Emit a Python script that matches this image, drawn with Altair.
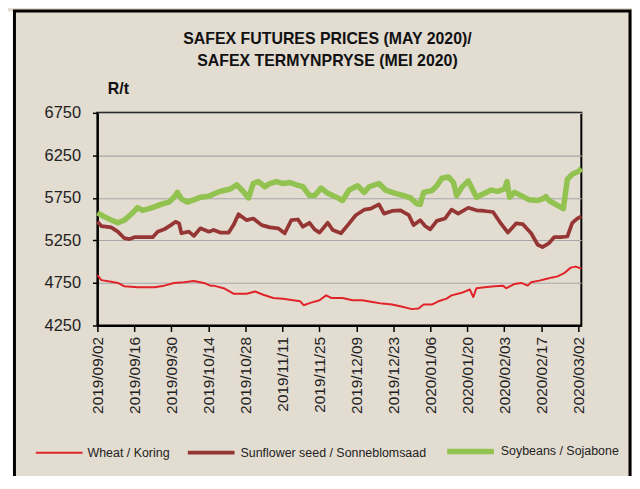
import altair as alt
import pandas as pd

FONT = "Liberation Sans, Arial, sans-serif"
BG = "#E2DCD1"

# x = trading day offset from 2019/09/02, y = price (R/t)
wheat_days = [0, 1.5, 5.2, 7.7, 10.2, 15.2, 21.5, 25.3, 29.0, 32.8, 36.5, 40.3, 42.8,
              44.0, 47.8, 51.5, 56.5, 59.7, 62.8, 66.6, 70.3, 74.1, 76.8, 78.1, 80.9, 84.1, 86.6, 88.5,
              92.8, 96.6, 100.3, 104.1, 107.8, 111.6, 115.4, 119.1, 121.6, 123.5, 126.6, 129.1, 132.2,
              134.1, 137.9, 141.0, 142.3, 143.5, 146.6, 150.4, 153.5, 154.8, 157.9, 160.4, 162.9, 164.2,
              167.3, 169.8, 172.3, 174.2, 176.7, 179.2, 181.0, 183.2]
wheat_vals = [4841, 4783, 4764, 4750, 4711, 4699, 4699, 4718, 4750, 4757, 4772, 4750, 4718,
              4718, 4688, 4623, 4623, 4649, 4611, 4573, 4565, 4546, 4534, 4488, 4519, 4546, 4604, 4573,
              4573, 4546, 4546, 4527, 4507, 4496, 4469, 4442, 4450, 4496, 4496, 4534, 4565,
              4604, 4634, 4673, 4584, 4688, 4699, 4711, 4718, 4688, 4738, 4750, 4718, 4757,
              4777, 4796, 4815, 4827, 4865, 4930, 4942, 4919]

sun_days = [0, 1.5, 5.2, 7.7, 10.2, 12.1, 14.0, 17.8, 20.9, 22.8, 25.3, 27.8, 29.6, 30.9, 31.8, 34.6,
            36.5, 39.0, 42.2,
            44.0, 46.5, 49.7, 51.5, 53.4, 56.5, 59.0, 62.2, 65.3, 68.4, 70.9, 73.4, 75.9, 77.8, 80.3,
            82.2, 84.1, 87.2, 89.1,
            92.2, 94.7, 97.8, 101.0, 103.5, 106.6, 108.5, 111.6, 114.7, 117.9, 119.7, 122.2, 124.1,
            126.0, 128.5, 131.6, 134.1,
            136.6, 140.4, 143.5, 146.6, 149.8, 152.3, 155.4, 158.5, 161.0, 164.2, 166.7, 168.5, 171.0,
            172.9, 175.4, 177.9, 179.8, 181.7, 183.2]
sun_vals = [5469, 5419, 5403, 5353, 5276, 5265, 5288, 5288, 5288, 5353, 5380, 5430, 5469, 5450, 5334, 5353,
            5303, 5392, 5353,
            5373, 5342, 5342, 5430, 5557, 5488, 5507, 5430, 5403, 5392, 5334, 5488, 5496, 5411, 5457,
            5380, 5342, 5457, 5373,
            5334, 5427, 5546, 5611, 5623, 5673, 5565, 5596, 5604, 5546, 5430, 5488, 5419,
            5380, 5480, 5507, 5611,
            5565, 5634, 5604, 5596, 5584, 5469, 5342, 5450, 5442, 5334, 5199, 5172, 5219,
            5288, 5288, 5296, 5457, 5507, 5534]

soy_days = [0, 2.7, 5.9, 7.7, 10.2, 12.8, 15.2, 17.1, 19.6, 22.1, 24.6, 27.1, 29.0, 30.3, 31.8, 34.0,
            36.5, 39.0, 42.2,
            44.0, 46.5, 50.3, 52.8, 54.7, 57.2, 59.0, 60.9, 63.4, 65.3, 67.8, 70.3, 72.8, 75.3, 77.8,
            80.3, 82.2, 84.7, 87.2,
            91.0, 92.8, 95.3, 98.5, 101.0, 102.9, 106.6, 109.1, 112.8, 116.0, 118.5, 121.0, 122.2,
            123.5, 126.6, 128.5, 130.4, 132.9, 134.8, 136.0,
            137.9, 140.4, 143.5, 146.0, 149.1, 151.6, 154.1, 155.1, 156.0, 157.9, 160.4, 163.5, 166.7,
            168.5, 169.8, 171.0, 174.2, 176.4, 177.9, 179.8, 182.3, 183.2]
soy_vals = [5573, 5527, 5480, 5457, 5488, 5557, 5635, 5604, 5623, 5650, 5680, 5700, 5758, 5815, 5738, 5700,
            5727, 5758, 5769,
            5796, 5827, 5854, 5904, 5842, 5750, 5919, 5942, 5881, 5919, 5942, 5919, 5931, 5904, 5881,
            5777, 5777, 5865, 5804,
            5750, 5719, 5842, 5892, 5815, 5881, 5919, 5842, 5804, 5777, 5750, 5681, 5673,
            5815, 5835, 5892, 5981, 5996, 5931, 5777,
            5873, 5950, 5758, 5796, 5842, 5827, 5854, 5942, 5758, 5815, 5777, 5727, 5719,
            5738, 5765, 5719, 5661, 5623, 5969, 6027, 6065, 6097]

series_names = ["Wheat / Koring", "Sunflower seed / Sonneblomsaad", "Soybeans / Sojabone"]
series_colors = ["#E0242A", "#963634", "#92C24F"]
series_widths = [2, 5.5, 4.5]

tick_labels = ["2019/09/02", "2019/09/16", "2019/09/30", "2019/10/14", "2019/10/28", "2019/11/11",
               "2019/11/25", "2019/12/09", "2019/12/23", "2020/01/06", "2020/01/20", "2020/02/03",
               "2020/02/17", "2020/03/02"]
y_ticks = [4250, 4750, 5250, 5750, 6250, 6750]

base = pd.Timestamp("2019-09-02")
rows = []
for name, days, vals in zip(series_names, [wheat_days, sun_days, soy_days], [wheat_vals, sun_vals, soy_vals]):
    for d, v in zip(days, vals):
        t = base + pd.Timedelta(hours=round(d * 24))
        rows.append({"date": t.strftime("%Y-%m-%dT%H:%M:%SZ"), "price": v, "series": name})
df = pd.DataFrame(rows)


def dt(s, hours=0):
    y, m, d = [int(p) for p in s.split("/")]
    return alt.DateTime(year=y, month=m, date=d, hours=hours, utc=True)


tick_values = [dt(s) for s in tick_labels]

legend = alt.Legend(title=None, orient="none", legendX=-63, legendY=314, direction="horizontal",
                    symbolType="stroke", symbolSize=2209, labelFont=FONT, labelFontSize=12.5,
                    labelColor="#222222", columnPadding=10, labelOffset=4, padding=0, labelLimit=0)

lines = alt.Chart(df).mark_line(strokeJoin="round").encode(
    x=alt.X("date:T",
            scale=alt.Scale(type="utc", domain=[dt("2019/09/02"), dt("2020/03/03", hours=5)]),
            axis=alt.Axis(values=tick_values, format="%Y/%m/%d", labelAngle=-90, grid=False,
                          title=None, tickSize=6, labelPadding=5, labelFontSize=15.5)),
    y=alt.Y("price:Q", scale=alt.Scale(domain=[4250, 6750], nice=False, zero=False),
            axis=alt.Axis(values=y_ticks, format="d", grid=True, title="R/t", titleAngle=0, titleX=10,
                          titleY=-24, titleAlign="left", titleBaseline="middle", titleFont=FONT,
                          titleFontSize=16, titleFontWeight="bold", titleColor="#111111", tickSize=5,
                          labelPadding=12, labelFontSize=16.5)),
    color=alt.Color("series:N", scale=alt.Scale(domain=series_names, range=series_colors), legend=legend),
    strokeWidth=alt.StrokeWidth("series:N", scale=alt.Scale(domain=series_names, range=series_widths),
                                legend=legend),
)

frame_df = pd.DataFrame({"k": [0]})
outer_border = alt.Chart(frame_df).mark_rect(filled=False, stroke="black", strokeWidth=3).encode(
    x=alt.value(-83.5), x2=alt.value(536), y=alt.value(-102.5), y2=alt.value(520))
white_strip = alt.Chart(frame_df).mark_rect(fill="white", stroke=None).encode(
    x=alt.value(-91), x2=alt.value(-85), y=alt.value(-102), y2=alt.value(520))

chart = alt.layer(white_strip, outer_border, lines).properties(
    width=487, height=214,
    title=alt.TitleParams(["SAFEX FUTURES PRICES (MAY 2020)/", "SAFEX TERMYNPRYSE (MEI 2020)"],
                          font=FONT, fontSize=16, fontWeight="bold", color="#111111", anchor="middle",
                          frame="group", baseline="bottom", offset=0, dy=76, lineHeight=22, dx=-12),
    autosize=alt.AutoSizeParams(type="none"),
    padding={"left": 90, "top": 104, "right": 51, "bottom": 150},
    background=BG,
).configure_view(stroke="black", strokeWidth=2).configure_axis(
    labelFont=FONT, labelColor="#222222", domainColor="black", domainWidth=2,
    tickColor="black", tickWidth=1.5, gridColor="#A8A8A8", gridWidth=1.2)

chart.save("out.html", embed_options={"renderer": "svg", "actions": False})
